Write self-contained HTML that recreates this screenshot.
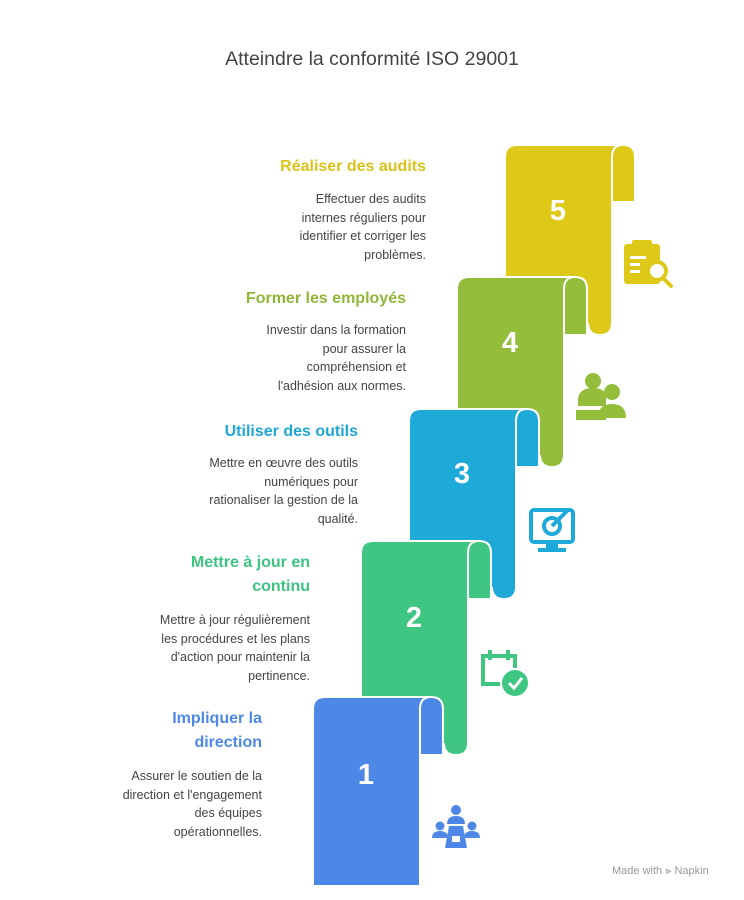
<!DOCTYPE html>
<html><head><meta charset="utf-8"><style>
html,body{margin:0;padding:0;background:#fff;}
body{width:744px;height:900px;position:relative;overflow:hidden;font-family:"Liberation Sans",Arial,sans-serif;}
.t{position:absolute;text-align:right;}
.h{font-weight:bold;font-size:16px;line-height:24px;}
.b{font-size:12.5px;line-height:18.5px;color:#444;}
</style></head><body>
<div style="position:absolute;left:0;width:744px;top:48px;text-align:center;font-size:19.5px;color:#444;">Atteindre la conformité ISO 29001</div>

<svg width="744" height="900" style="position:absolute;left:0;top:0">
<g stroke="#fff" stroke-width="2">
<path d="M505 335 V157 Q505 145 517 145 H623 Q635 145 635 157 V202 H612 V323 Q612 335 600 335 Q588 335 588 323 V335 Z" fill="#dfc918"/>
<path d="M612 202 V157 Q612 145 623 145" fill="none"/>
<path d="M457 467 V289 Q457 277 469 277 H575 Q587 277 587 289 V335 H564 V455 Q564 467 552 467 Q540 467 540 455 V467 Z" fill="#93bd3b"/>
<path d="M564 335 V289 Q564 277 575 277" fill="none"/>
<path d="M409 599 V421 Q409 409 421 409 H527 Q539 409 539 421 V467 H516 V587 Q516 599 504 599 Q492 599 492 587 V599 Z" fill="#1eaad8"/>
<path d="M516 467 V421 Q516 409 527 409" fill="none"/>
<path d="M361 755 V553 Q361 541 373 541 H479 Q491 541 491 553 V599 H468 V743 Q468 755 456 755 Q444 755 444 743 V755 Z" fill="#3fc683"/>
<path d="M468 599 V553 Q468 541 479 541" fill="none"/>
<path d="M313 886 V709 Q313 697 325 697 H431 Q443 697 443 709 V755 H420 V886 Z" fill="#4e88e6"/>
<path d="M420 755 V709 Q420 697 431 697" fill="none"/>
</g>
<g fill="#fff" font-family="Liberation Sans,Arial,sans-serif" font-weight="bold" font-size="29" text-anchor="middle">
<text x="558" y="220">5</text><text x="510" y="352">4</text><text x="462" y="483">3</text><text x="414" y="627">2</text><text x="366" y="784">1</text>
</g>
<g fill="#dfc918"><rect x="624" y="244" width="36" height="40" rx="3"/><rect x="632" y="240" width="20" height="8" rx="2"/></g>
<g fill="#fff"><rect x="630" y="256" width="16" height="3"/><rect x="630" y="263" width="10" height="3"/><rect x="630" y="270" width="10" height="3"/></g>
<circle cx="657" cy="271" r="9" fill="#fff" stroke="#dfc918" stroke-width="4"/><line x1="663" y1="278" x2="671" y2="286" stroke="#dfc918" stroke-width="4" stroke-linecap="round"/>
<g fill="#93bd3b"><circle cx="593" cy="381" r="8"/><path d="M578 398 Q580 388 593 388 Q606 388 606 398 V406 H578Z"/><rect x="576" y="410" width="30" height="10"/><circle cx="612" cy="392" r="8"/><path d="M598 418 Q598 404 612 404 Q626 404 626 418Z"/></g>
<g fill="none" stroke="#1eaad8" stroke-width="4"><rect x="531" y="510" width="42" height="32" rx="3"/><circle cx="552" cy="526" r="8"/></g>
<rect x="546" y="542" width="12" height="6" fill="#1eaad8"/><rect x="538" y="548" width="28" height="4" fill="#1eaad8"/><line x1="552" y1="526" x2="568" y2="510" stroke="#1eaad8" stroke-width="4"/>
<g fill="none" stroke="#3fc683" stroke-width="4"><path d="M500 684 H483 V656 H515 V668"/><line x1="490" y1="650" x2="490" y2="660"/><line x1="508" y1="650" x2="508" y2="660"/></g>
<circle cx="515" cy="683" r="13" fill="#3fc683"/><path d="M509 683 L514 688 L522 678" fill="none" stroke="#fff" stroke-width="3"/>
<g fill="#4e88e6"><circle cx="456" cy="810" r="5"/><path d="M447 824 Q447 816 456 816 Q465 816 465 824Z"/><circle cx="440" cy="826" r="4.5"/><path d="M432 838 Q432 831 440 831 Q448 831 448 838Z"/><circle cx="472" cy="826" r="4.5"/><path d="M464 838 Q464 831 472 831 Q480 831 480 838Z"/><path d="M449 826 H463 L467 848 H445Z"/></g>
<rect x="452" y="836" width="8" height="6" fill="#fff"/>
</svg>

<div class="t h" style="right:318px;top:155px;width:300px;color:#d9c31a">Réaliser des audits</div>
<div class="t b" style="right:318px;top:190px;width:300px;">Effectuer des audits<br>internes réguliers pour<br>identifier et corriger les<br>problèmes.</div>
<div class="t h" style="right:338px;top:287px;width:300px;color:#8fb839">Former les employés</div>
<div class="t b" style="right:338px;top:321px;width:300px;">Investir dans la formation<br>pour assurer la<br>compréhension et<br>l'adhésion aux normes.</div>
<div class="t h" style="right:386px;top:420px;width:300px;color:#1ea6d4">Utiliser des outils</div>
<div class="t b" style="right:386px;top:454px;width:300px;">Mettre en œuvre des outils<br>numériques pour<br>rationaliser la gestion de la<br>qualité.</div>
<div class="t h" style="right:434px;top:551px;width:300px;color:#3ec381">Mettre à jour en<br>continu</div>
<div class="t b" style="right:434px;top:611px;width:300px;">Mettre à jour régulièrement<br>les procédures et les plans<br>d'action pour maintenir la<br>pertinence.</div>
<div class="t h" style="right:482px;top:707px;width:260px;color:#4e88e6">Impliquer la<br>direction</div>
<div class="t b" style="right:482px;top:767px;width:260px;">Assurer le soutien de la<br>direction et l'engagement<br>des équipes<br>opérationnelles.</div>
<div style="position:absolute;left:612px;top:865px;font-size:11px;color:#999;">Made with ⫸ Napkin</div>
</body></html>
